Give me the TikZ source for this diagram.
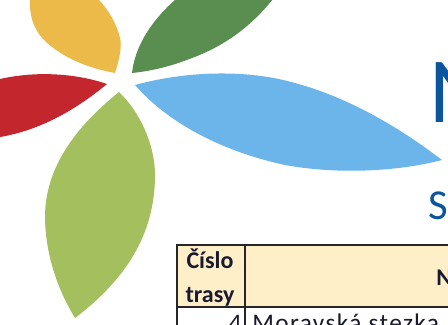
\documentclass[tikz,border=0pt]{standalone}
\usepackage{fontspec}
\setmainfont{Carlito}
\newfontfamily\spacedbody[LetterSpace=5.5]{Carlito}
\definecolor{petalyellow}{HTML}{EBBA48}
\definecolor{petalgreen}{HTML}{5A8E50}
\definecolor{petalred}{HTML}{C4262E}
\definecolor{petalblue}{HTML}{6BB5EB}
\definecolor{petallime}{HTML}{A4BF5D}
\definecolor{titleblue}{HTML}{0B559F}
\definecolor{headfill}{HTML}{FFEFC9}
\definecolor{inktext}{HTML}{1A1A2E}
\tikzset{
  cellline/.style={draw=black!85,line width=2pt},
  headtext/.style={inner sep=0pt,text=inktext,font=\bfseries\fontsize{18}{18}\selectfont},
  bodytext/.style={inner sep=0pt,text=inktext,font=\spacedbody\fontsize{19}{19}\selectfont},
  titletext/.style={inner sep=0pt,text=titleblue}
}
\begin{document}
\begin{tikzpicture}[x=0.75pt,y=-0.75pt]
\useasboundingbox (0,0) rectangle (448,324);
\clip (0,0) rectangle (448,324);
% yellow
\fill[petalyellow] (115,73) .. controls (120,58) and (122,44) .. (120,38) .. controls (117,24) and (108,9) .. (98,-1) -- (30,-1) .. controls (29,20) and (36,35) .. (52,47) .. controls (70,61) and (93,69) .. (115,73) -- cycle;
% green
\fill[petalgreen] (132,73) .. controls (135,47) and (150,22) .. (176,-1) -- (273,-1) .. controls (250,28) and (222,47) .. (192,58) .. controls (172,66) and (152,71) .. (132,73) -- cycle;
% red
\fill[petalred] (107,84) .. controls (75,73) and (35,71) .. (0,79) -- (0,137) .. controls (42,130) and (78,108) .. (107,84) -- cycle;
% blue
\fill[petalblue] (135,85) .. controls (190,70) and (250,70) .. (295,83) .. controls (350,98) and (400,128) .. (442,160) .. controls (400,171) and (340,175) .. (285,165) .. controls (225,152) and (170,125) .. (135,85) -- cycle;
% lime
\fill[petallime] (119,92) .. controls (140,112) and (155,145) .. (155,175) .. controls (155,235) and (125,280) .. (75,318) .. controls (55,285) and (45,250) .. (45,215) .. controls (46,165) and (78,125) .. (119,92) -- cycle;
% title letters
\node[titletext,anchor=base west,font=\fontsize{70}{70}\selectfont] (bigN) at (429,122) {N};
\node[titletext,anchor=base west,font=\fontsize{32}{32}\selectfont] (subS) at (428,219) {S};
% table
\fill[headfill] (177,245) rectangle (448,307);
\draw[cellline] (448,245) -- (177,245) -- (177,326);
\draw[cellline] (245,245) -- (245,326);
\draw[cellline] (177,307) -- (448,307);
\node[headtext,anchor=base] (cislo) at (210,268) {Číslo};
\node[headtext,anchor=base] (trasy) at (210,302) {trasy};
\node[headtext,anchor=base west] (nazev) at (436,285) {N};
\node[bodytext,anchor=base east] (num) at (242,331) {4};
\node[bodytext,anchor=base west] (route) at (252,331) {Moravská stezka};
\end{tikzpicture}
\end{document}
